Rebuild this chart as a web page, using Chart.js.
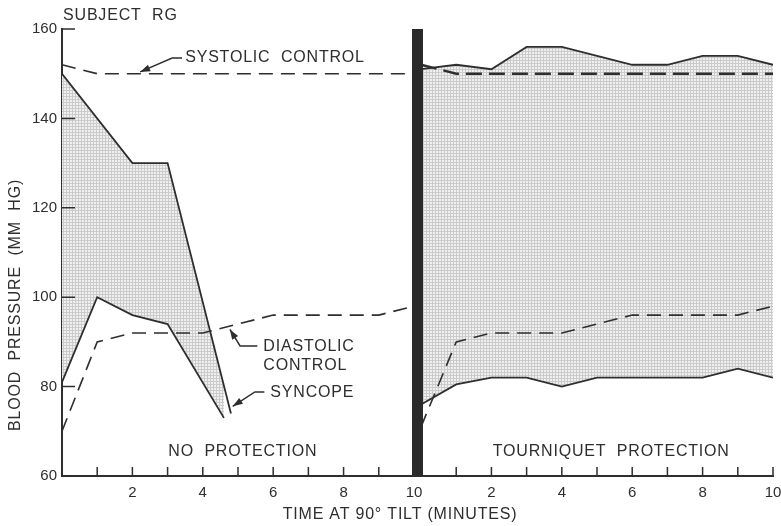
<!DOCTYPE html>
<html>
<head>
<meta charset="utf-8">
<script src="https://cdn.jsdelivr.net/npm/chart.js@4.4.1/dist/chart.umd.min.js"></script>
<style>
  html, body { margin: 0; padding: 0; background: #fff; }
  #wrap { width: 781px; height: 526px; position: relative; }
</style>
</head>
<body>
<div id="wrap"><canvas id="chart"></canvas></div>
<script>
// minutes of tilt, both halves
const minutes = [0, 1, 2, 3, 4, 5, 6, 7, 8, 9, 10];
// right half starts just past the divider
const rightStart = 10.2;

// no protection (left half)
const sysTiltLeftT = [0, 2, 3, 4.8];
const sysTiltLeft = [150, 130, 130, 74];
const diaTiltLeftT = [0, 1, 2, 3, 4.6];
const diaTiltLeft = [81, 100, 96, 94, 73];
const sysControlLeft = [152, 150, 150, 150, 150, 150, 150, 150, 150, 150, 150];
const diaControlLeft = [70, 90, 92, 92, 92, 94, 96, 96, 96, 96, 98];

// tourniquet protection (right half)
const sysTiltRight = [151, 152, 151, 156, 156, 154, 152, 152, 154, 154, 152];
const diaTiltRight = [76, 80.5, 82, 82, 80, 82, 82, 82, 82, 84, 82];
const sysControlRight = [152, 150, 150, 150, 150, 150, 150, 150, 150, 150, 150];
const diaControlRight = [71, 90, 92, 92, 92, 94, 96, 96, 96, 96, 98];

// axis ticks
const yTicks = [60, 80, 100, 120, 140, 160];
const xTickLabels = ['', '2', '', '4', '', '6', '', '8', '', '10'];

const ink = '#2e2e2e';
const font = '"Liberation Sans", Arial, sans-serif';

const pts = (xs, ys, off) => xs.map((x, i) => ({ x: x + (off || 0), y: ys[i] }));

function stipple() {
  const c = document.createElement('canvas');
  c.width = 3; c.height = 3;
  const g = c.getContext('2d');
  g.fillStyle = '#f0f0f0';
  g.fillRect(0, 0, 3, 3);
  g.fillStyle = '#cbcbcb';
  g.fillRect(0, 0, 3, 1);
  g.fillRect(0, 0, 1, 3);
  return g.createPattern(c, 'repeat');
}
const shade = stipple();

const xTickValues = [];
minutes.slice(1).forEach(m => xTickValues.push(m));
minutes.slice(1).forEach(m => xTickValues.push(rightStart + m));
const allTickLabels = xTickLabels.concat(xTickLabels);

// text labels with leaders, in data units
const notes = [
  { text: 'SUBJECT  RG', x: 0.03, y: 163.1 },
  { text: 'SYSTOLIC  CONTROL', x: 3.5, y: 153.5, lead: [[3.41, 153.5], [3.13, 153.5], [2.22, 150.4]] },
  { text: 'DIASTOLIC', x: 5.72, y: 88.9, lead: [[5.55, 89.1], [5.06, 89.1], [4.77, 92.8]] },
  { text: 'CONTROL', x: 5.72, y: 84.8 },
  { text: 'SYNCOPE', x: 5.92, y: 78.6, lead: [[5.75, 78.8], [5.48, 78.8], [4.85, 75.6]] },
  { text: 'NO  PROTECTION', x: 3.02, y: 65.4 },
  { text: 'TOURNIQUET  PROTECTION', x: 12.24, y: 65.4 }
];

const decor = {
  id: 'decor',
  afterDraw(chart) {
    const { ctx, chartArea: a, scales: { x, y } } = chart;
    ctx.save();
    ctx.setLineDash([]);
    // divider bar at 10 minutes
    const bx = x.getPixelForValue((10 + rightStart) / 2);
    ctx.fillStyle = '#2a2a2a';
    ctx.fillRect(bx - 5.5, y.getPixelForValue(160), 11, y.getPixelForValue(60) - y.getPixelForValue(160));

    // inward tick marks
    ctx.strokeStyle = ink;
    ctx.lineWidth = 1.5;
    ctx.beginPath();
    yTicks.forEach(v => {
      const py = y.getPixelForValue(v);
      ctx.moveTo(a.left, py);
      ctx.lineTo(a.left + 13, py);
    });
    xTickValues.forEach(v => {
      const px = x.getPixelForValue(v);
      ctx.moveTo(px, a.bottom);
      ctx.lineTo(px, a.bottom - 9);
    });
    ctx.stroke();

    // notes and leaders
    ctx.fillStyle = ink;
    ctx.font = '16px ' + font;
    ctx.letterSpacing = '0.8px';
    ctx.textBaseline = 'middle';
    ctx.textAlign = 'left';
    notes.forEach(n => {
      ctx.fillText(n.text, x.getPixelForValue(n.x), y.getPixelForValue(n.y));
      if (!n.lead) return;
      const p = n.lead.map(([vx, vy]) => [x.getPixelForValue(vx), y.getPixelForValue(vy)]);
      ctx.lineWidth = 1.5;
      ctx.beginPath();
      ctx.moveTo(p[0][0], p[0][1]);
      p.slice(1).forEach(q => ctx.lineTo(q[0], q[1]));
      ctx.stroke();
      const [s, t] = p.slice(-2);
      const ang = Math.atan2(t[1] - s[1], t[0] - s[0]);
      const c = Math.cos(ang), sn = Math.sin(ang);
      ctx.beginPath();
      ctx.moveTo(t[0], t[1]);
      ctx.lineTo(t[0] - 10 * c - 3.5 * sn, t[1] - 10 * sn + 3.5 * c);
      ctx.lineTo(t[0] - 10 * c + 3.5 * sn, t[1] - 10 * sn - 3.5 * c);
      ctx.closePath();
      ctx.fill();
    });

    // axis titles
    ctx.textAlign = 'center';
    ctx.fillText('TIME AT 90\u00B0 TILT (MINUTES)', 400, 515);
    ctx.translate(16, 305);
    ctx.rotate(-Math.PI / 2);
    ctx.fillText('BLOOD  PRESSURE  (MM  HG)', 0, 0);
    ctx.restore();
  }
};

const solid = { borderColor: ink, borderWidth: 1.8, pointRadius: 0, tension: 0 };
const dashed = { borderColor: ink, borderWidth: 1.6, borderDash: [14, 8], pointRadius: 0, tension: 0, fill: false };

new Chart(document.getElementById('chart'), {
  type: 'line',
  data: {
    datasets: [
      Object.assign({ label: 'Systolic control', data: pts(minutes, sysControlLeft) }, dashed),
      Object.assign({ label: 'Diastolic control', data: pts(minutes, diaControlLeft) }, dashed),
      Object.assign({ label: 'Systolic control R', data: pts(minutes, sysControlRight, rightStart) }, dashed, { borderWidth: 2.4, borderDash: [16, 7] }),
      Object.assign({ label: 'Diastolic control R', data: pts(minutes, diaControlRight, rightStart) }, dashed),
      Object.assign({ label: 'Systolic tilt', data: pts(sysTiltLeftT, sysTiltLeft), fill: { target: 5 }, backgroundColor: shade }, solid),
      Object.assign({ label: 'Diastolic tilt', data: pts(diaTiltLeftT, diaTiltLeft), fill: false }, solid),
      Object.assign({ label: 'Systolic tilt R', data: pts(minutes, sysTiltRight, rightStart), fill: { target: 7 }, backgroundColor: shade }, solid),
      Object.assign({ label: 'Diastolic tilt R', data: pts(minutes, diaTiltRight, rightStart), fill: false }, solid)
    ]
  },
  options: {
    responsive: true,
    maintainAspectRatio: false,
    animation: false,
    layout: { padding: { top: 29, right: 8, left: 0, bottom: 0 } },
    plugins: {
      legend: { display: false },
      tooltip: { enabled: false },
      filler: { drawTime: 'beforeDatasetsDraw' }
    },
    scales: {
      x: {
        type: 'linear',
        min: 0,
        max: rightStart + 10,
        afterBuildTicks: s => { s.ticks = xTickValues.map(v => ({ value: v })); },
        afterFit: s => { s.height = 50; s.paddingLeft = 0; s.paddingRight = 0; },
        grid: { display: true, drawOnChartArea: false, drawTicks: false },
        border: { color: ink, width: 2 },
        ticks: {
          autoSkip: false,
          maxRotation: 0,
          padding: 8,
          color: ink,
          font: { family: font, size: 15 },
          callback: (v, i) => allTickLabels[i]
        }
      },
      y: {
        min: 60,
        max: 160,
        afterBuildTicks: s => { s.ticks = yTicks.map(v => ({ value: v })); },
        afterFit: s => { s.width = 62; s.paddingTop = 0; s.paddingBottom = 0; },
        grid: { display: true, drawOnChartArea: false, drawTicks: false },
        border: { color: ink, width: 2 },
        ticks: {
          padding: 5,
          color: ink,
          font: { family: font, size: 15 }
        }
      }
    }
  },
  plugins: [decor]
});
</script>
</body>
</html>
